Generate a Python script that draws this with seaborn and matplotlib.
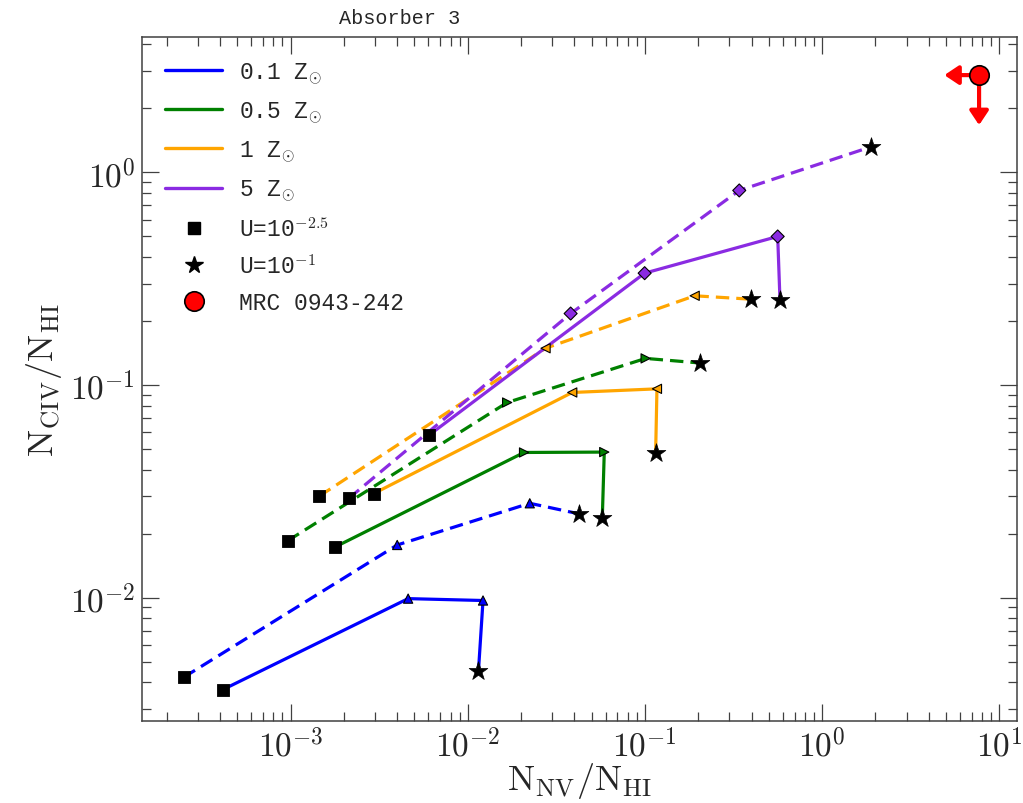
import numpy as np
import pandas as pd
import matplotlib
matplotlib.use("Agg")
import matplotlib.pyplot as plt
import matplotlib.ticker as mticker
import matplotlib.transforms as mtransforms
from matplotlib.lines import Line2D
import seaborn as sns

# ---- data -------------------------------------------------------------
metallicities = ["0.1", "0.5", "1", "5"]
z_labels = [r"0.1 Z$_{\odot}$", r"0.5 Z$_{\odot}$", r"1 Z$_{\odot}$", r"5 Z$_{\odot}$"]
colors = ["blue", "green", "orange", "blueviolet"]
mid_markers = ["^", ">", "<", "D"]

# Each track runs from U = 10^-2.5 (first point) to U = 10^-1 (last point)
nv_z01_solid = [4.16e-4, 4.61e-3, 0.0122, 0.0115]
civ_z01_solid = [3.70e-3, 9.9e-3, 9.7e-3, 4.53e-3]
nv_z05_solid = [1.78e-3, 0.0208, 0.059, 0.0575]
civ_z05_solid = [0.0173, 0.0482, 0.0484, 0.0237]
nv_z1_solid = [2.95e-3, 0.0389, 0.117, 0.115]
civ_z1_solid = [0.0309, 0.0923, 0.096, 0.0477]
nv_z5_solid = [6.04e-3, 0.0997, 0.562, 0.579]
civ_z5_solid = [0.0581, 0.336, 0.500, 0.251]

nv_z01_dashed = [2.49e-4, 4.0e-3, 0.0224, 0.0425]
civ_z01_dashed = [4.22e-3, 0.0177, 0.0278, 0.0248]
nv_z05_dashed = [9.62e-4, 0.0167, 0.101, 0.205]
civ_z05_dashed = [0.0185, 0.0828, 0.1335, 0.127]
nv_z1_dashed = [1.45e-3, 0.0275, 0.191, 0.396]
civ_z1_dashed = [0.0300, 0.149, 0.263, 0.2535]
nv_z5_dashed = [2.13e-3, 0.0381, 0.341, 1.89]
civ_z5_dashed = [0.0293, 0.217, 0.823, 1.32]

# Observed ratios (upper limits on both axes)
mrc_nv = 7.7
mrc_civ = 2.87

tracks = {
    ("0.1", "solid"): (nv_z01_solid, civ_z01_solid),
    ("0.5", "solid"): (nv_z05_solid, civ_z05_solid),
    ("1", "solid"): (nv_z1_solid, civ_z1_solid),
    ("5", "solid"): (nv_z5_solid, civ_z5_solid),
    ("0.1", "dashed"): (nv_z01_dashed, civ_z01_dashed),
    ("0.5", "dashed"): (nv_z05_dashed, civ_z05_dashed),
    ("1", "dashed"): (nv_z1_dashed, civ_z1_dashed),
    ("5", "dashed"): (nv_z5_dashed, civ_z5_dashed),
}

rows = []
for (z, kind), (nv, civ) in tracks.items():
    for step, (a, b) in enumerate(zip(nv, civ)):
        rows.append({"Z": z, "track": kind, "step": step, "nv": a, "civ": b})
df = pd.DataFrame(rows)

# ---- style ------------------------------------------------------------
sns.set_style("ticks")
plt.rcParams["mathtext.fontset"] = "cm"
plt.rcParams["font.family"] = ["DejaVu Serif"]
plt.rcParams["axes.edgecolor"] = "0.25"
plt.rcParams["axes.linewidth"] = 1.1

palette = dict(zip(metallicities, colors))
marker_map = dict(zip(metallicities, mid_markers))
mono = ["Liberation Mono", "DejaVu Sans Mono"]

fig = plt.figure(figsize=(10.23, 8.04), dpi=100)
ax = fig.add_axes([0.1388, 0.1024, 0.8553, 0.8507])

sns.lineplot(data=df, x="nv", y="civ", hue="Z", style="track",
             hue_order=metallicities, palette=palette,
             style_order=["solid", "dashed"],
             dashes={"solid": "", "dashed": (4.2, 2.2)},
             sort=False, estimator=None, linewidth=2.3,
             legend=False, ax=ax, zorder=2)

mids = df[df["step"].isin([1, 2])]
sns.scatterplot(data=mids, x="nv", y="civ", hue="Z", style="Z",
                hue_order=metallicities, palette=palette,
                style_order=metallicities, markers=marker_map,
                s=44, edgecolor="black", linewidth=0.8,
                legend=False, ax=ax, zorder=3)

starts = df[df["step"] == 0]
sns.scatterplot(data=starts, x="nv", y="civ", color="black", marker="s",
                s=70, edgecolor="black", linewidth=0.6,
                legend=False, ax=ax, zorder=4)

ends = df[df["step"] == 3]
sns.scatterplot(data=ends, x="nv", y="civ", color="black", marker="*",
                s=200, edgecolor="black", linewidth=0.5,
                legend=False, ax=ax, zorder=4)

# upper-limit arrows on the observed point
arrow_style = dict(arrowstyle="-|>,head_length=0.42,head_width=0.28",
                   color="red", lw=3, shrinkA=0, shrinkB=0, mutation_scale=20)
left_tip = mtransforms.offset_copy(ax.transData, fig=fig, x=-25, y=0, units="points")
down_tip = mtransforms.offset_copy(ax.transData, fig=fig, x=0, y=-36, units="points")
ax.annotate("", xy=(mrc_nv, mrc_civ), xycoords=left_tip,
            xytext=(mrc_nv, mrc_civ), textcoords="data",
            arrowprops=arrow_style, zorder=5)
ax.annotate("", xy=(mrc_nv, mrc_civ), xycoords=down_tip,
            xytext=(mrc_nv, mrc_civ), textcoords="data",
            arrowprops=arrow_style, zorder=5)
ax.plot([mrc_nv], [mrc_civ], "o", color="red", mec="black", mew=1.2,
        ms=14, zorder=6)

# ---- axes -------------------------------------------------------------
ax.set_xscale("log")
ax.set_yscale("log")
ax.set_xlim(1.45e-4, 12.6)
ax.set_ylim(2.64e-3, 4.35)

pow_fmt = mticker.FuncFormatter(lambda v, pos: r"$10^{%d}$" % int(round(np.log10(v))))
for axis in (ax.xaxis, ax.yaxis):
    axis.set_major_locator(mticker.LogLocator(base=10, numticks=20))
    axis.set_minor_locator(mticker.LogLocator(base=10, subs=np.arange(2, 10), numticks=20))
    axis.set_major_formatter(pow_fmt)
    axis.set_minor_formatter(mticker.NullFormatter())

ax.tick_params(which="both", direction="in", top=True, right=True,
               color="0.25", width=0.9)
ax.tick_params(which="major", length=12.5, labelsize=24, pad=5)
ax.tick_params(which="minor", length=6.5)

ax.set_xlabel(r"$\mathrm{N_{NV}/N_{HI}}$", fontsize=26, labelpad=-2)
ax.set_ylabel(r"$\mathrm{N_{CIV}/N_{HI}}$", fontsize=26, labelpad=4)

ax.text(0.294, 1.014, "Absorber 3", transform=ax.transAxes, ha="center",
        va="bottom", fontsize=14.5, family=mono)

# ---- legend -----------------------------------------------------------
handles = [Line2D([], [], color=c, lw=2.4) for c in colors]
handles += [
    Line2D([], [], ls="none", marker="s", color="black", ms=8),
    Line2D([], [], ls="none", marker="*", color="black", ms=13),
    Line2D([], [], ls="none", marker="o", color="red", mec="black", mew=1.2, ms=14),
]
labels = z_labels + [r"U=10$^{-2.5}$", r"U=10$^{-1}$", "MRC 0943-242"]
ax.legend(handles, labels, loc="upper left", bbox_to_anchor=(0.0, 1.0),
          frameon=False, prop={"family": mono, "size": 16.5},
          handlelength=2.5, handletextpad=0.75, labelspacing=0.58,
          borderaxespad=0.6)

fig.savefig("out.png", dpi=100)
